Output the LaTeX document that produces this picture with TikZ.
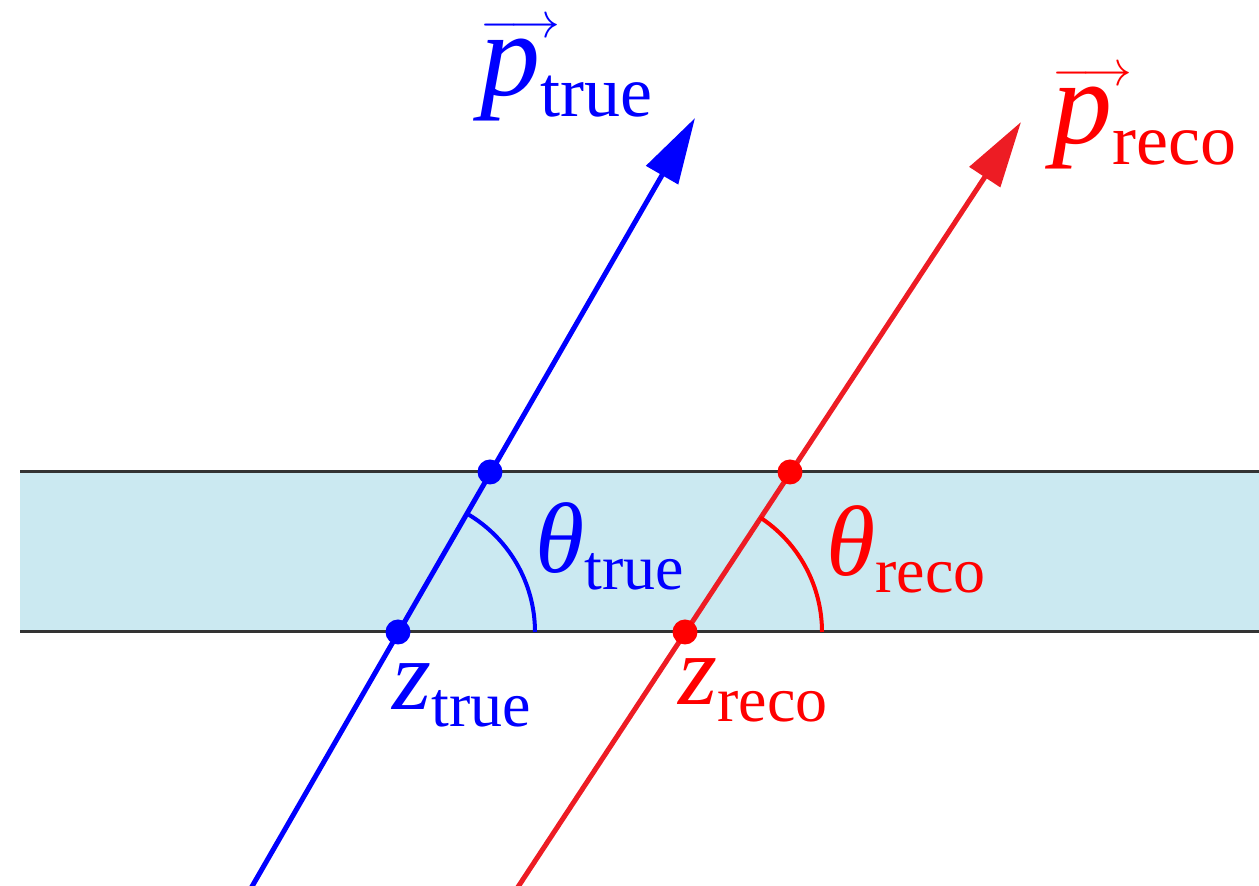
\documentclass[tikz,border=0pt]{standalone}
\usepackage{fontspec}
\setmainfont{Liberation Serif}
\usetikzlibrary{arrows.meta}
\definecolor{bandfill}{RGB}{203,233,241}
\definecolor{bandedge}{RGB}{51,51,51}
\definecolor{recoline}{RGB}{237,28,36}
\newcommand{\veclbl}[1]{{\fontsize{60}{64}\selectfont\rlap{\raisebox{29pt}{\fontsize{25}{25}\selectfont$\longrightarrow$}}\itshape p}{\fontsize{36}{38}\selectfont\raisebox{-10.5pt}{#1}}}
\newcommand{\symlbl}[2]{{\fontsize{50}{54}\selectfont\itshape #1}{\fontsize{32}{34}\selectfont\raisebox{-8.5pt}{#2}}}
\tikzset{
  track/.style={line width=2.5pt, -{Triangle[length=33pt, width=18pt]}},
  angarc/.style={line width=2pt},
  bandline/.style={line width=1.5pt, draw=bandedge},
  vtx/.style={circle, inner sep=0pt, minimum size=12.5pt},
  lbl/.style={inner sep=0pt, anchor=base west}
}
\begin{document}
\begin{tikzpicture}[x=0.5pt, y=-0.5pt]
  \useasboundingbox (0,0) rectangle (1259,886);

  %% -- Band --
  \coordinate (bandnw) at (20,472);
  \coordinate (bandne) at (1259,472);
  \coordinate (bandsw) at (20,632);
  \coordinate (bandse) at (1259,632);
  \fill[bandfill] (bandnw) rectangle (bandse);
  \draw[bandline] (bandnw) -- (bandne);
  \draw[bandline] (bandsw) -- (bandse);

  %% -- Tracks --
  \coordinate (truebot) at (250,890);
  \coordinate (truetip) at (695,118);
  \coordinate (recobot) at (516,890);
  \coordinate (recotip) at (1021,122);
  \draw[track, blue] (truebot) -- (truetip);
  \draw[track, recoline] (recobot) -- (recotip);

  %% -- Angles --
  \coordinate (ztrue) at (398,632);
  \coordinate (zreco) at (685,632);
  \draw[angarc, blue] ([xshift=68.5pt]ztrue) arc[start angle=0, end angle=60.1, radius=68.5pt];
  \draw[angarc, red] ([xshift=68.5pt]zreco) arc[start angle=0, end angle=56.7, radius=68.5pt];

  %% -- Crossing points --
  \node[vtx, fill=blue] (ztruedot) at (ztrue) {};
  \node[vtx, fill=blue] (etruedot) at (490,472) {};
  \node[vtx, fill=red] (zrecodot) at (zreco) {};
  \node[vtx, fill=red] (erecodot) at (790,472) {};

  %% -- Labels --
  \node[lbl, text=blue] (ptruelbl) at (480,96) {\veclbl{true}};
  \node[lbl, text=red] (precolbl) at (1052,144) {\veclbl{reco}};
  \node[lbl, text=blue] (thtruelbl) at (535,573) {\symlbl{θ}{true}};
  \node[lbl, text=red] (threcolbl) at (826,576) {\symlbl{θ}{reco}};
  \node[lbl, text=blue] (ztruelbl) at (392,710) {\symlbl{z}{true}};
  \node[lbl, text=red] (zrecolbl) at (678,705) {\symlbl{z}{reco}};
\end{tikzpicture}
\end{document}
